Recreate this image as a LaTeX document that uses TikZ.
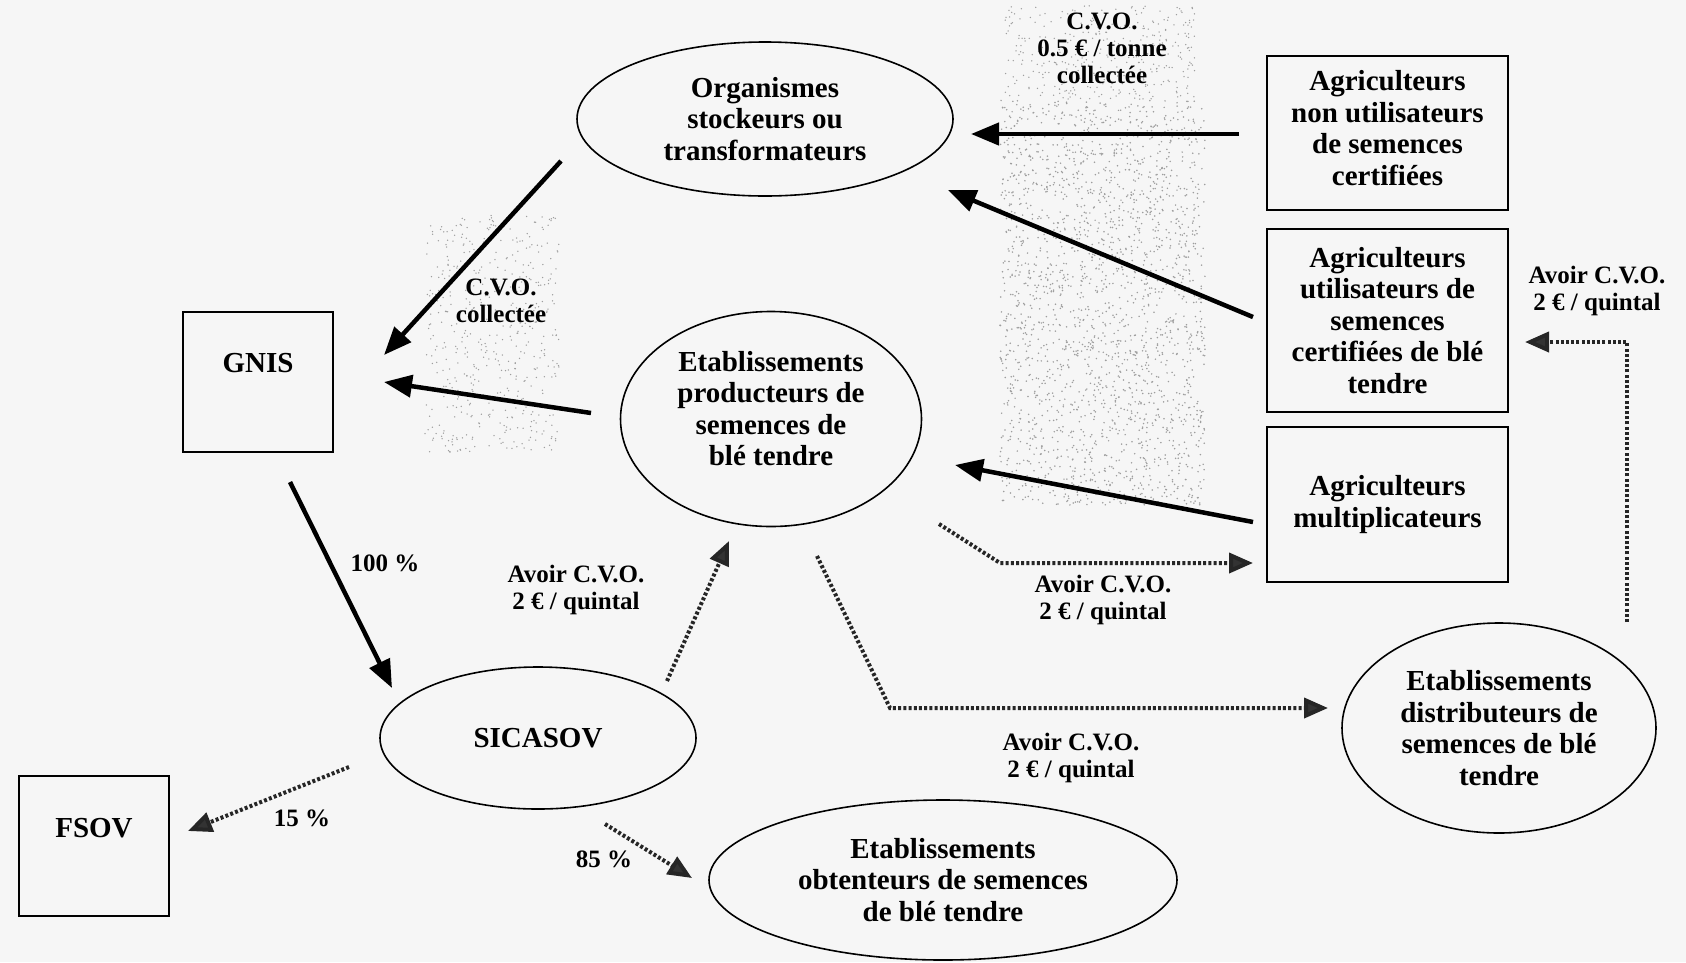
\documentclass[tikz,border=0pt]{standalone}
\usepackage{fontspec}
\setmainfont{Liberation Serif}
\usetikzlibrary{arrows.meta,shapes.geometric}
\definecolor{bgcol}{RGB}{246,246,246}
\begin{document}
\begin{tikzpicture}[x=1pt,y=-1pt,
  every node/.style={font=\bfseries\fontsize{29}{31.5}\selectfont, align=center, inner sep=0pt},
  ell/.style={ellipse, draw, line width=1.6pt},
  box/.style={rectangle, draw, line width=1.6pt},
  lab/.style={font=\bfseries\fontsize{25}{27}\selectfont},
  arr/.style={line width=4.5pt, -{Triangle[length=28pt,width=22pt]}},
  dotarr/.style={line width=4pt, black!85, dash pattern=on 3pt off 2.2pt, -{Triangle[length=24pt,width=20pt,fill=black!80]}},
  stip/.style={black!38}
]
\fill[bgcol] (0,0) rectangle (1686,962);
\useasboundingbox (0,0) rectangle (1686,962);
% stippled zones
\pgfmathsetseed{4321}
\foreach \i in {1,...,2200} {\fill[stip] ({1000+205*rnd},{100+405*rnd}) circle (0.85pt);}
\foreach \i in {1,...,350} {\fill[stip] ({1005+190*rnd},{5+95*rnd}) circle (0.75pt);}
\foreach \i in {1,...,500} {\fill[stip] ({425+134*rnd},{215+237*rnd}) circle (0.75pt);}

% nodes
\node[ell, minimum width=376pt, minimum height=154pt] (org) at (765,119) {Organismes\\stockeurs ou\\transformateurs};
\node[box, minimum width=241pt, minimum height=154pt] (nonutil) at (1387.5,133) {Agriculteurs\\non utilisateurs\\de semences\\certifiées\\[-21pt]};
\node[box, minimum width=241pt, minimum height=183pt] (util) at (1387.5,320.5) {Agriculteurs\\utilisateurs de\\semences\\certifiées de blé\\tendre};
\node[box, minimum width=241pt, minimum height=155pt] (multi) at (1387.5,504.5) {Agriculteurs\\multiplicateurs};
\node[box, minimum width=150pt, minimum height=140pt] (gnis) at (258,382) {GNIS\\[6pt]};
\node[ell, minimum width=301pt, minimum height=215pt] (prod) at (771,419) {Etablissements\\producteurs de\\semences de\\blé tendre\\[-10pt]};
\node[ell, minimum width=316pt, minimum height=142pt] (sica) at (538,738) {SICASOV};
\node[box, minimum width=150pt, minimum height=140pt] (fsov) at (94,846) {FSOV\\[4pt]};
\node[ell, minimum width=468pt, minimum height=160pt] (obt) at (943,880) {Etablissements\\obtenteurs de semences\\de blé tendre};
\node[ell, minimum width=314pt, minimum height=210pt] (dist) at (1499,728) {Etablissements\\distributeurs de\\semences de blé\\tendre};

% labels
\node[lab] (l1) at (1102,48) {C.V.O.\\0.5 € / tonne\\collectée};
\node[lab] (l2) at (501,301) {C.V.O.\\collectée};
\node[lab] (l3) at (385,563) {100 \%};
\node[lab] (l4) at (576,590) {Avoir C.V.O.\\2 € / quintal};
\node[lab] (l5) at (1103,600) {Avoir C.V.O.\\2 € / quintal};
\node[lab] (l6) at (1071,758) {Avoir C.V.O.\\2 € / quintal};
\node[lab] (l7) at (1597,291) {Avoir C.V.O.\\2 € / quintal};
\node[lab] (l8) at (302,818) {15 \%};
\node[lab] (l9) at (604,859) {85 \%};

% solid arrows
\draw[arr] ([shift={(-148.5,1)}]nonutil.center) -- ([shift={(206,15)}]org.center);
\draw[arr] ([shift={(-134.5,-3.5)}]util.center) -- ([shift={(183,71)}]org.center);
\draw[arr] ([shift={(-134.5,17.5)}]multi.center) -- ([shift={(184,46)}]prod.center);
\draw[arr] ([shift={(-204,42)}]org.center) -- ([shift={(126,-27)}]gnis.center);
\draw[arr] ([shift={(-180,-6)}]prod.center) -- ([shift={(126,0)}]gnis.center);
\draw[arr] ([shift={(32,100)}]gnis.center) -- ([shift={(-146,-50)}]sica.center);

% dotted arrows
\draw[dotarr] ([shift={(-189,29)}]sica.center) -- ([shift={(94,-15)}]fsov.center);
\draw[dotarr] ([shift={(67,86)}]sica.center) -- ([shift={(-251,-2)}]obt.center);
\draw[dotarr] ([shift={(129,-57)}]sica.center) -- ([shift={(-42,122)}]prod.center);
\draw[dotarr] ([shift={(46,137)}]prod.center) -- ++(73,152) -- ([shift={(-171,-20)}]dist.center);
\draw[dotarr] ([shift={(168,105)}]prod.center) -- ++(61,39) -- ([shift={(-134.5,58.5)}]multi.center);
\draw[dotarr] ([shift={(128,-106)}]dist.center) -- ++(0,-280) -- ([shift={(137.5,21.5)}]util.center);
\end{tikzpicture}
\end{document}
